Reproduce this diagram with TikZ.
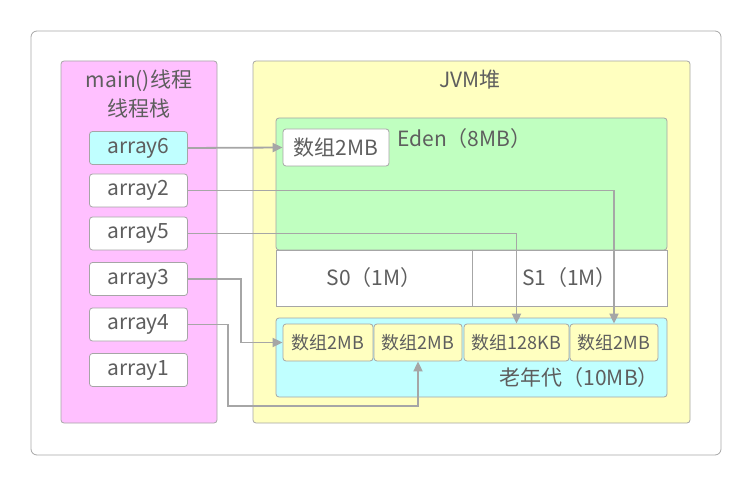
\documentclass[tikz,border=0pt]{standalone}
\usepackage{fontspec}
\setmainfont{Noto Sans CJK SC}
\usetikzlibrary{arrows.meta}

\definecolor{linegray}{HTML}{A6A6A6}
\definecolor{textgray}{HTML}{5E5E5E}
\definecolor{stackpink}{HTML}{FFC0FF}
\definecolor{heapyellow}{HTML}{FFFFC0}
\definecolor{edengreen}{HTML}{C0FFC0}
\definecolor{oldcyan}{HTML}{C0FFFF}

\tikzset{
  region/.style={draw=linegray, line width=0.8pt, rounded corners=3pt},
  varbox/.style={draw=linegray, line width=0.8pt, fill=white, rounded corners=3pt,
    minimum width=98pt, minimum height=33pt, inner sep=0pt, text=textgray,
    font=\fontsize{21}{24}\selectfont},
  objbox/.style={draw=linegray, line width=0.8pt, fill=heapyellow, rounded corners=3pt,
    minimum height=37pt, inner sep=0pt, text=textgray,
    font=\fontsize{18}{21}\selectfont},
  label/.style={text=textgray, inner sep=0pt, font=\fontsize{21}{24}\selectfont},
  link/.style={draw=linegray, line width=1.8pt, -{Triangle[length=10pt,width=9pt]}},
}

\begin{document}
\begin{tikzpicture}[x=1pt,y=-1pt]

% Canvas
\useasboundingbox (0,0) rectangle (752,486);
\draw[draw=linegray, line width=0.8pt, rounded corners=6pt] (31,31) rectangle (721,455);

% Thread stack
\draw[region, fill=stackpink] (61,61) rectangle (217,423);
\node[label] (stacktitle) at (139,81) {main()线程};
\node[label] (stacksub) at (139,109) {线程栈};

\node[varbox, fill=oldcyan] (a6) at (138.5,148) {array6};
\node[varbox] (a2) at (138.5,190.5) {array2};
\node[varbox] (a5) at (138.5,233.5) {array5};
\node[varbox] (a3) at (138.5,279) {array3};
\node[varbox] (a4) at (138.5,324.5) {array4};
\node[varbox] (a1) at (138.5,370) {array1};

% JVM heap
\draw[region, fill=heapyellow] (253,61) rectangle (690,423);
\node[label] (heaptitle) at (470,80) {JVM堆};

% Eden
\draw[region, fill=edengreen] (276,118) rectangle (667,250);
\node[label, anchor=west] (edenlabel) at (397,139) {Eden（8MB）};
\node[varbox, minimum width=106pt, minimum height=37pt] (e1) at (336,147.5) {数组2MB};

% Survivor spaces
\draw[draw=linegray, line width=0.8pt, fill=white] (276,250) rectangle (667,306);
\draw[draw=linegray, line width=0.8pt] (472,250) -- (472,306);
\node[label] (s0) at (374,278) {S0（1M）};
\node[label] (s1) at (569.5,278) {S1（1M）};

% Old generation
\draw[region, fill=oldcyan] (276,318) rectangle (667,397);
\node[objbox, minimum width=90pt] (o1) at (328,342.5) {数组2MB};
\node[objbox, minimum width=88pt] (o2) at (418,342.5) {数组2MB};
\node[objbox, minimum width=105pt] (o3) at (516.5,342.5) {数组128KB};
\node[objbox, minimum width=88pt] (o4) at (614,342.5) {数组2MB};
\node[label, anchor=east] (oldlabel) at (659,378) {老年代（10MB）};

% References
\coordinate (oldbelow) at (418,406);
\draw[link] (a6.east) -- (e1.west);
\draw[link] (a2.east) -| (o4.north);
\draw[link] (a5.east) -| (o3.north);
\draw[link] (a3.east) -- ++(53,0) |- (o1.west);
\draw[link] (a4.east) -- ++(40,0) |- (oldbelow) -- (o2.south);

\end{tikzpicture}
\end{document}
